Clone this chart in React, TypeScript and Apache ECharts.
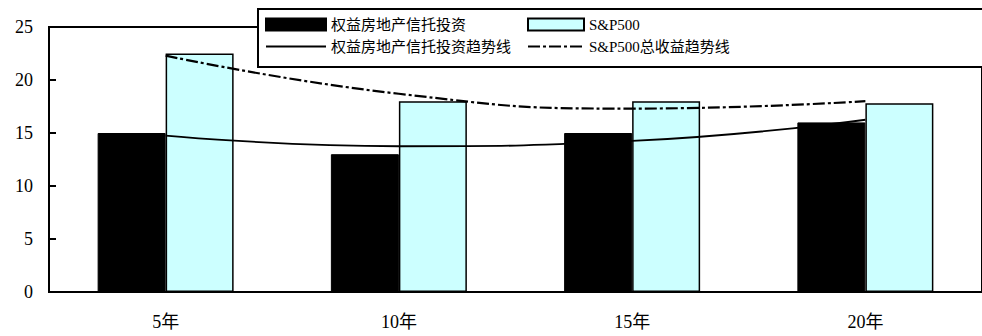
import React, { useEffect, useRef } from "react";
import * as echarts from "echarts";

const categories = ["5年", "10年", "15年", "20年"];
const reitValues = [15, 13, 15, 16];
const spValues = [22.5, 18, 18, 17.8];
const reitTrend = [14.75, 13.75, 14.25, 16.25];
const spTrend = [22.3, 18.7, 17.3, 18.0];
const yTicks = [0, 5, 10, 15, 20, 25];

const nameReit = "权益房地产信托投资";
const nameSp = "S&P500";
const nameReitTrend = "权益房地产信托投资趋势线";
const nameSpTrend = "S&P500总收益趋势线";

const FONT = "Liberation Serif, Noto Sans CJK SC, serif";
const hiddenSymbol = { color: "rgba(0,0,0,0)", borderColor: "rgba(0,0,0,0)", borderWidth: 0, opacity: 0 };

export default function App() {
  const ref = useRef<HTMLDivElement>(null);
  useEffect(() => {
    if (!ref.current) return;
    const chart = echarts.init(ref.current, null, { renderer: "svg" });
    chart.setOption({
      animation: false,
      backgroundColor: "#fff",
      grid: {
        left: 49,
        top: 27,
        width: 940,
        height: 265,
        show: true,
        borderColor: "#000",
        borderWidth: 2,
        backgroundColor: "transparent",
      },
      xAxis: {
        type: "category",
        data: categories,
        axisLine: { lineStyle: { color: "#000", width: 2 } },
        axisTick: { inside: true, length: 6, lineStyle: { color: "#000", width: 2 } },
        axisLabel: { color: "#000", fontSize: 18, fontFamily: FONT, margin: 21 },
        splitLine: { show: false },
      },
      yAxis: {
        type: "value",
        min: yTicks[0],
        max: yTicks[yTicks.length - 1],
        interval: 5,
        axisLine: { show: true, lineStyle: { color: "#000", width: 2 } },
        axisTick: { show: true, inside: true, length: 7, lineStyle: { color: "#000", width: 2 } },
        axisLabel: { color: "#000", fontSize: 18, fontFamily: FONT, margin: 16 },
        splitLine: { show: false },
      },
      legend: [
        {
          z: 20,
          left: 265,
          top: 17,
          orient: "vertical",
          itemGap: 7,
          itemWidth: 60,
          itemHeight: 12,
          padding: 0,
          data: [
            { name: nameReit, icon: "rect" },
            { name: nameReitTrend, itemStyle: hiddenSymbol },
          ],
          textStyle: { color: "#000", fontSize: 15, fontFamily: FONT },
        },
        {
          z: 20,
          left: 527,
          top: 17,
          orient: "vertical",
          itemGap: 7,
          itemWidth: 56,
          itemHeight: 12,
          padding: 0,
          data: [
            { name: nameSp, icon: "rect" },
            { name: nameSpTrend, itemStyle: hiddenSymbol },
          ],
          textStyle: { color: "#000", fontSize: 15, fontFamily: FONT },
        },
      ],
      graphic: {
        z: 10,
        elements: [
          {
            type: "rect",
            z: 10,
            shape: { x: 258, y: 9, width: 740, height: 58 },
            style: { fill: "#fff", stroke: "#000", lineWidth: 2 },
          },
        ],
      },
      series: [
        {
          name: nameReit,
          type: "bar",
          data: reitValues,
          barWidth: 68,
          barGap: "0%",
          itemStyle: { color: "#000", borderColor: "#000", borderWidth: 1 },
        },
        {
          name: nameSp,
          type: "bar",
          data: spValues,
          barWidth: 68,
          barGap: "0%",
          itemStyle: { color: "#CCFFFF", borderColor: "#000", borderWidth: 1.5 },
        },
        {
          name: nameReitTrend,
          type: "line",
          data: reitTrend,
          smooth: 0.5,
          symbol: "none",
          z: 5,
          lineStyle: { color: "#000", width: 1.8, type: "solid" },
          itemStyle: { color: "#000" },
        },
        {
          name: nameSpTrend,
          type: "line",
          data: spTrend,
          smooth: 0.5,
          symbol: "none",
          z: 5,
          lineStyle: { color: "#000", width: 2.2, type: [12, 3, 3, 3] },
          itemStyle: { color: "#000" },
        },
      ],
    });
    return () => chart.dispose();
  }, []);
  return <div ref={ref} style={{ width: 982, height: 336, position: "absolute", left: 0, top: 0 }} />;
}
